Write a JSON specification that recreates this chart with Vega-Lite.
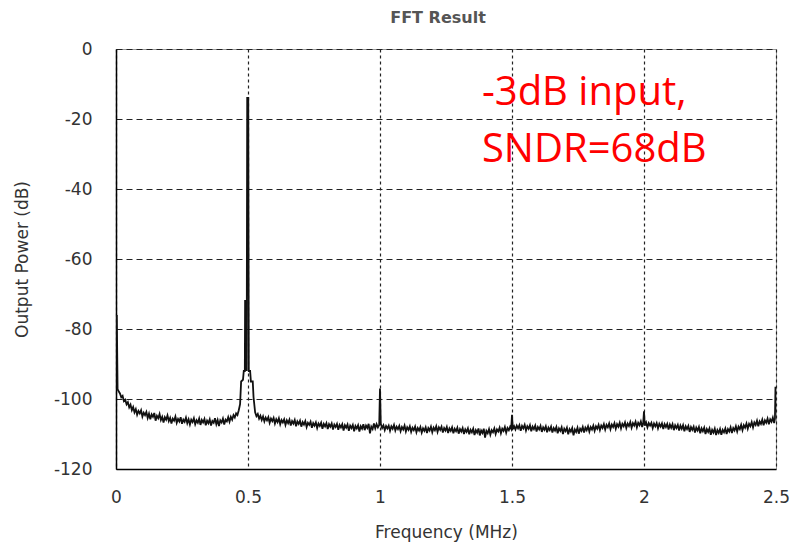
{
"$schema": "https://vega.github.io/schema/vega-lite/v6.json",
"width": 660, "height": 420,
"autosize": {"type": "none"},
"padding": {"left": 116, "top": 49, "right": 14, "bottom": 75},
"background": "white",
"title": {"text": "FFT Result", "font": "DejaVu Sans", "fontSize": 16, "fontWeight": "bold", "color": "#555", "anchor": "middle", "offset": 14, "dx": -8},
"config": {
 "view": {"stroke": "#999", "strokeWidth": 1},
 "axis": {"ticks": false, "labelFlush": false, "domainColor": "#000", "domainWidth": 1.5, "labelFont": "DejaVu Sans", "labelFontSize": 17, "labelColor": "#333", "titleFont": "DejaVu Sans", "titleFontSize": 17, "titleFontWeight": "normal", "titleColor": "#333", "gridColor": "#222", "gridWidth": 1.2, "gridOpacity": 1}
},
"datasets": {
"spec": [
{"f":0.003,"p":-76},{"f":0.006,"p":-97.2},{"f":0.01,"p":-97.8},{"f":0.015,"p":-98.4},{"f":0.02,"p":-99.5},{"f":0.025,"p":-99.1},{"f":0.03,"p":-100.6},{"f":0.035,"p":-100.2},{"f":0.04,"p":-101.5},{"f":0.045,"p":-100.9},{"f":0.05,"p":-102.4},{"f":0.055,"p":-101.6},{"f":0.06,"p":-103.2},{"f":0.065,"p":-102.3},{"f":0.07,"p":-103.8},{"f":0.075,"p":-102.9},{"f":0.08,"p":-104.5},{"f":0.085,"p":-103.4},{"f":0.09,"p":-104.1},{"f":0.095,"p":-103.2},{"f":0.1,"p":-105},{"f":0.105,"p":-103.9},{"f":0.11,"p":-104.6},{"f":0.115,"p":-103.7},{"f":0.12,"p":-105.4},{"f":0.125,"p":-104.2},{"f":0.13,"p":-105.8},{"f":0.135,"p":-104.4},{"f":0.14,"p":-105.1},{"f":0.145,"p":-104},{"f":0.15,"p":-106.2},{"f":0.155,"p":-104.8},{"f":0.16,"p":-105.5},{"f":0.165,"p":-104.3},{"f":0.17,"p":-106},{"f":0.175,"p":-105.1},{"f":0.18,"p":-106.7},{"f":0.185,"p":-105.2},{"f":0.19,"p":-105.9},{"f":0.195,"p":-104.7},{"f":0.2,"p":-106.3},{"f":0.205,"p":-105.4},{"f":0.21,"p":-107},{"f":0.215,"p":-105.6},{"f":0.22,"p":-106.2},{"f":0.225,"p":-105},{"f":0.23,"p":-106.8},{"f":0.235,"p":-105.7},{"f":0.24,"p":-106.4},{"f":0.245,"p":-105.2},{"f":0.25,"p":-107.1},{"f":0.255,"p":-105.9},{"f":0.26,"p":-106.5},{"f":0.265,"p":-105.3},{"f":0.27,"p":-106.9},{"f":0.275,"p":-105.8},{"f":0.28,"p":-107.3},{"f":0.285,"p":-105.9},{"f":0.29,"p":-106.6},{"f":0.295,"p":-105.5},{"f":0.3,"p":-107.2},{"f":0.305,"p":-106.1},{"f":0.31,"p":-106.8},{"f":0.315,"p":-105.6},{"f":0.32,"p":-107.4},{"f":0.325,"p":-106},{"f":0.33,"p":-106.7},{"f":0.335,"p":-105.7},{"f":0.34,"p":-107.5},{"f":0.345,"p":-106.2},{"f":0.35,"p":-106.9},{"f":0.355,"p":-105.8},{"f":0.36,"p":-107.6},{"f":0.365,"p":-106.3},{"f":0.37,"p":-106.8},{"f":0.375,"p":-105.5},{"f":0.38,"p":-107.2},{"f":0.385,"p":-106},{"f":0.39,"p":-107.7},{"f":0.395,"p":-106.1},{"f":0.4,"p":-106.7},{"f":0.405,"p":-105.6},{"f":0.41,"p":-107.3},{"f":0.415,"p":-105.9},{"f":0.42,"p":-106.4},{"f":0.425,"p":-105.2},{"f":0.43,"p":-106.5},{"f":0.435,"p":-105.1},{"f":0.44,"p":-105.9},{"f":0.445,"p":-104.6},{"f":0.45,"p":-105.3},{"f":0.455,"p":-104.1},{"f":0.46,"p":-104.6},{"f":0.465,"p":-103.2},{"f":0.47,"p":-101.5},
{"f":0.474,"p":-95},{"f":0.481,"p":-94.5},{"f":0.484,"p":-92},{"f":0.488,"p":-92},{"f":0.489,"p":-72},{"f":0.493,"p":-72},{"f":0.495,"p":-92},{"f":0.497,"p":-14},{"f":0.501,"p":-14},{"f":0.503,"p":-92},{"f":0.508,"p":-92},{"f":0.511,"p":-95},{"f":0.518,"p":-95},{"f":0.521,"p":-99.5},
{"f":0.527,"p":-103.8},{"f":0.532,"p":-104.9},{"f":0.537,"p":-104.3},{"f":0.542,"p":-105.6},{"f":0.547,"p":-104.8},{"f":0.552,"p":-106},{"f":0.557,"p":-105},{"f":0.562,"p":-106.4},{"f":0.567,"p":-105.3},{"f":0.572,"p":-106.1},{"f":0.577,"p":-105.2},{"f":0.582,"p":-106.8},{"f":0.587,"p":-105.6},{"f":0.592,"p":-106.3},{"f":0.597,"p":-105.4},{"f":0.602,"p":-107},{"f":0.607,"p":-105.8},{"f":0.612,"p":-106.6},{"f":0.617,"p":-105.5},{"f":0.622,"p":-107.2},{"f":0.627,"p":-106},{"f":0.632,"p":-106.7},{"f":0.637,"p":-105.8},{"f":0.642,"p":-107.4},{"f":0.647,"p":-106.1},{"f":0.652,"p":-106.9},{"f":0.657,"p":-105.9},{"f":0.662,"p":-107.6},{"f":0.667,"p":-106.3},{"f":0.672,"p":-107},{"f":0.677,"p":-106},{"f":0.682,"p":-107.8},{"f":0.687,"p":-106.4},{"f":0.692,"p":-107.1},{"f":0.697,"p":-106.2},{"f":0.702,"p":-107.9},{"f":0.707,"p":-106.6},{"f":0.712,"p":-107.3},{"f":0.717,"p":-106.3},{"f":0.722,"p":-108},{"f":0.727,"p":-106.8},{"f":0.732,"p":-107.4},{"f":0.737,"p":-106.5},{"f":0.742,"p":-108.2},{"f":0.747,"p":-106.9},{"f":0.752,"p":-107.6},{"f":0.757,"p":-106.7},{"f":0.762,"p":-108.3},{"f":0.767,"p":-107},{"f":0.772,"p":-107.7},{"f":0.777,"p":-106.8},{"f":0.782,"p":-108.5},{"f":0.787,"p":-107.1},{"f":0.792,"p":-107.8},{"f":0.797,"p":-106.9},{"f":0.802,"p":-108.6},{"f":0.807,"p":-107.2},{"f":0.812,"p":-107.9},{"f":0.817,"p":-107},{"f":0.822,"p":-108.7},{"f":0.827,"p":-107.3},{"f":0.832,"p":-108},{"f":0.837,"p":-107.1},{"f":0.842,"p":-108.8},{"f":0.847,"p":-107.4},{"f":0.852,"p":-108.1},{"f":0.857,"p":-107.2},{"f":0.862,"p":-109},{"f":0.867,"p":-107.5},{"f":0.872,"p":-108.2},{"f":0.877,"p":-107.3},{"f":0.882,"p":-109.1},{"f":0.887,"p":-107.6},{"f":0.892,"p":-108.3},{"f":0.897,"p":-107.4},{"f":0.902,"p":-109.2},{"f":0.907,"p":-107.7},{"f":0.912,"p":-108.4},{"f":0.917,"p":-107.5},{"f":0.922,"p":-109.3},{"f":0.927,"p":-107.8},{"f":0.932,"p":-108.5},{"f":0.937,"p":-107.2},{"f":0.942,"p":-108.9},{"f":0.947,"p":-107.6},{"f":0.952,"p":-108.3},{"f":0.957,"p":-107.1},{"f":0.962,"p":-109.8},{"f":0.967,"p":-107.9},{"f":0.972,"p":-108.6},{"f":0.977,"p":-107},{"f":0.982,"p":-108.4},{"f":0.987,"p":-107.2},{"f":0.992,"p":-108.1},{"f":0.997,"p":-107.4},{"f":1.0,"p":-97},
{"f":1.003,"p":-107.1},{"f":1.008,"p":-108.3},{"f":1.013,"p":-107.5},{"f":1.018,"p":-108.9},{"f":1.023,"p":-107.7},{"f":1.028,"p":-108.4},{"f":1.033,"p":-107.6},{"f":1.038,"p":-109.1},{"f":1.043,"p":-107.8},{"f":1.048,"p":-108.5},{"f":1.053,"p":-107.4},{"f":1.058,"p":-109},{"f":1.063,"p":-107.9},{"f":1.068,"p":-108.6},{"f":1.073,"p":-107.7},{"f":1.078,"p":-109.2},{"f":1.083,"p":-108},{"f":1.088,"p":-108.7},{"f":1.093,"p":-107.6},{"f":1.098,"p":-109.3},{"f":1.103,"p":-108.1},{"f":1.108,"p":-108.8},{"f":1.113,"p":-107.8},{"f":1.118,"p":-109.4},{"f":1.123,"p":-108.2},{"f":1.128,"p":-108.9},{"f":1.133,"p":-107.9},{"f":1.138,"p":-109.5},{"f":1.143,"p":-108.3},{"f":1.148,"p":-109},{"f":1.153,"p":-108},{"f":1.158,"p":-109.6},{"f":1.163,"p":-108.4},{"f":1.168,"p":-109.1},{"f":1.173,"p":-108.1},{"f":1.178,"p":-109.7},{"f":1.183,"p":-108.3},{"f":1.188,"p":-109},{"f":1.193,"p":-107.9},{"f":1.198,"p":-109.5},{"f":1.203,"p":-108.2},{"f":1.208,"p":-108.9},{"f":1.213,"p":-107.8},{"f":1.218,"p":-109.4},{"f":1.223,"p":-108.1},{"f":1.228,"p":-108.8},{"f":1.233,"p":-107.9},{"f":1.238,"p":-109.6},{"f":1.243,"p":-108.3},{"f":1.248,"p":-109},{"f":1.253,"p":-108},{"f":1.258,"p":-109.7},{"f":1.263,"p":-108.4},{"f":1.268,"p":-109.1},{"f":1.273,"p":-108.1},{"f":1.278,"p":-109.8},{"f":1.283,"p":-108.5},{"f":1.288,"p":-109.2},{"f":1.293,"p":-108.2},{"f":1.298,"p":-109.9},{"f":1.303,"p":-108.6},{"f":1.308,"p":-109.3},{"f":1.313,"p":-108.3},{"f":1.318,"p":-110},{"f":1.323,"p":-108.7},{"f":1.328,"p":-109.4},{"f":1.333,"p":-108.4},{"f":1.338,"p":-110.1},{"f":1.343,"p":-108.8},{"f":1.348,"p":-109.5},{"f":1.353,"p":-108.5},{"f":1.358,"p":-110.3},{"f":1.363,"p":-108.9},{"f":1.368,"p":-109.6},{"f":1.373,"p":-108.4},{"f":1.378,"p":-110.4},{"f":1.383,"p":-109},{"f":1.388,"p":-109.7},{"f":1.393,"p":-108.5},{"f":1.398,"p":-111},{"f":1.403,"p":-109.1},{"f":1.408,"p":-109.8},{"f":1.413,"p":-108.6},{"f":1.418,"p":-110.2},{"f":1.423,"p":-108.9},{"f":1.428,"p":-109.5},{"f":1.433,"p":-108.4},{"f":1.438,"p":-110},{"f":1.443,"p":-108.7},{"f":1.448,"p":-109.3},{"f":1.453,"p":-108.2},{"f":1.458,"p":-109.8},{"f":1.463,"p":-108.5},{"f":1.468,"p":-109.1},{"f":1.473,"p":-108},{"f":1.478,"p":-109.6},{"f":1.483,"p":-108.3},{"f":1.488,"p":-108.9},{"f":1.493,"p":-107.9},{"f":1.497,"p":-108.5},{"f":1.5,"p":-104.5},
{"f":1.503,"p":-108.6},{"f":1.508,"p":-107.8},{"f":1.513,"p":-108.7},{"f":1.518,"p":-107.6},{"f":1.523,"p":-108.4},{"f":1.528,"p":-107.5},{"f":1.533,"p":-109.1},{"f":1.538,"p":-107.7},{"f":1.543,"p":-108.4},{"f":1.548,"p":-107.4},{"f":1.553,"p":-109},{"f":1.558,"p":-107.8},{"f":1.563,"p":-108.5},{"f":1.568,"p":-107.5},{"f":1.573,"p":-109.2},{"f":1.578,"p":-107.9},{"f":1.583,"p":-108.6},{"f":1.588,"p":-107.6},{"f":1.593,"p":-109.3},{"f":1.598,"p":-108},{"f":1.603,"p":-108.7},{"f":1.608,"p":-107.7},{"f":1.613,"p":-109.4},{"f":1.618,"p":-108.1},{"f":1.623,"p":-108.8},{"f":1.628,"p":-107.8},{"f":1.633,"p":-109.5},{"f":1.638,"p":-108.2},{"f":1.643,"p":-108.9},{"f":1.648,"p":-107.9},{"f":1.653,"p":-109.6},{"f":1.658,"p":-108.3},{"f":1.663,"p":-109},{"f":1.668,"p":-108},{"f":1.673,"p":-109.8},{"f":1.678,"p":-108.4},{"f":1.683,"p":-109.1},{"f":1.688,"p":-108.1},{"f":1.693,"p":-110},{"f":1.698,"p":-108.5},{"f":1.703,"p":-109.2},{"f":1.708,"p":-108.2},{"f":1.713,"p":-110.1},{"f":1.718,"p":-108.6},{"f":1.723,"p":-109.3},{"f":1.728,"p":-108.3},{"f":1.733,"p":-110.4},{"f":1.738,"p":-108.7},{"f":1.743,"p":-109.4},{"f":1.748,"p":-108.2},{"f":1.753,"p":-109.9},{"f":1.758,"p":-108.5},{"f":1.763,"p":-109.1},{"f":1.768,"p":-108},{"f":1.773,"p":-109.6},{"f":1.778,"p":-108.2},{"f":1.783,"p":-108.9},{"f":1.788,"p":-107.8},{"f":1.793,"p":-109.3},{"f":1.798,"p":-108},{"f":1.803,"p":-108.7},{"f":1.808,"p":-107.6},{"f":1.813,"p":-109.1},{"f":1.818,"p":-107.8},{"f":1.823,"p":-108.5},{"f":1.828,"p":-107.4},{"f":1.833,"p":-108.9},{"f":1.838,"p":-107.6},{"f":1.843,"p":-108.3},{"f":1.848,"p":-107.2},{"f":1.853,"p":-108.7},{"f":1.858,"p":-107.4},{"f":1.863,"p":-108.1},{"f":1.868,"p":-107},{"f":1.873,"p":-108.6},{"f":1.878,"p":-107.3},{"f":1.883,"p":-108},{"f":1.888,"p":-106.9},{"f":1.893,"p":-108.5},{"f":1.898,"p":-107.2},{"f":1.903,"p":-107.9},{"f":1.908,"p":-106.8},{"f":1.913,"p":-108.4},{"f":1.918,"p":-107.1},{"f":1.923,"p":-107.8},{"f":1.928,"p":-106.7},{"f":1.933,"p":-108.3},{"f":1.938,"p":-107},{"f":1.943,"p":-107.7},{"f":1.948,"p":-106.6},{"f":1.953,"p":-108.2},{"f":1.958,"p":-106.9},{"f":1.963,"p":-107.6},{"f":1.968,"p":-106.5},{"f":1.973,"p":-108.1},{"f":1.978,"p":-106.8},{"f":1.983,"p":-107.5},{"f":1.988,"p":-106.4},{"f":1.993,"p":-108},{"f":1.997,"p":-106.8},{"f":2.0,"p":-103.5},
{"f":2.003,"p":-107.6},{"f":2.008,"p":-106.7},{"f":2.013,"p":-108.1},{"f":2.018,"p":-106.9},{"f":2.023,"p":-107.6},{"f":2.028,"p":-106.8},{"f":2.033,"p":-108.3},{"f":2.038,"p":-107},{"f":2.043,"p":-107.8},{"f":2.048,"p":-106.9},{"f":2.053,"p":-108.4},{"f":2.058,"p":-107.1},{"f":2.063,"p":-107.9},{"f":2.068,"p":-107},{"f":2.073,"p":-108.6},{"f":2.078,"p":-107.2},{"f":2.083,"p":-108},{"f":2.088,"p":-107.1},{"f":2.093,"p":-108.7},{"f":2.098,"p":-107.3},{"f":2.103,"p":-108.2},{"f":2.108,"p":-107.2},{"f":2.113,"p":-108.9},{"f":2.118,"p":-107.5},{"f":2.123,"p":-108.3},{"f":2.128,"p":-107.4},{"f":2.133,"p":-109},{"f":2.138,"p":-107.6},{"f":2.143,"p":-108.5},{"f":2.148,"p":-107.5},{"f":2.153,"p":-109.2},{"f":2.158,"p":-107.8},{"f":2.163,"p":-108.6},{"f":2.168,"p":-107.7},{"f":2.173,"p":-109.4},{"f":2.178,"p":-108},{"f":2.183,"p":-108.8},{"f":2.188,"p":-107.9},{"f":2.193,"p":-109.6},{"f":2.198,"p":-108.2},{"f":2.203,"p":-109},{"f":2.208,"p":-108},{"f":2.213,"p":-109.8},{"f":2.218,"p":-108.4},{"f":2.223,"p":-109.2},{"f":2.228,"p":-108.2},{"f":2.233,"p":-110},{"f":2.238,"p":-108.6},{"f":2.243,"p":-109.4},{"f":2.248,"p":-108.4},{"f":2.253,"p":-110.2},{"f":2.258,"p":-108.8},{"f":2.263,"p":-109.6},{"f":2.268,"p":-108.5},{"f":2.273,"p":-110.3},{"f":2.278,"p":-108.9},{"f":2.283,"p":-109.7},{"f":2.288,"p":-108.6},{"f":2.293,"p":-110.2},{"f":2.298,"p":-108.8},{"f":2.303,"p":-109.5},{"f":2.308,"p":-108.4},{"f":2.313,"p":-110},{"f":2.318,"p":-108.6},{"f":2.323,"p":-109.3},{"f":2.328,"p":-108.1},{"f":2.333,"p":-109.7},{"f":2.338,"p":-108.3},{"f":2.343,"p":-109},{"f":2.348,"p":-107.8},{"f":2.353,"p":-109.3},{"f":2.358,"p":-107.9},{"f":2.363,"p":-108.6},{"f":2.368,"p":-107.4},{"f":2.373,"p":-108.9},{"f":2.378,"p":-107.5},{"f":2.383,"p":-108.2},{"f":2.388,"p":-107},{"f":2.393,"p":-108.5},{"f":2.398,"p":-107.1},{"f":2.403,"p":-107.8},{"f":2.408,"p":-106.6},{"f":2.413,"p":-108.1},{"f":2.418,"p":-106.7},{"f":2.423,"p":-107.4},{"f":2.428,"p":-106.2},{"f":2.433,"p":-107.8},{"f":2.438,"p":-106.4},{"f":2.443,"p":-107.1},{"f":2.448,"p":-105.9},{"f":2.453,"p":-107.5},{"f":2.458,"p":-106.1},{"f":2.463,"p":-106.8},{"f":2.468,"p":-105.6},{"f":2.473,"p":-107.2},{"f":2.478,"p":-105.8},{"f":2.483,"p":-106.5},{"f":2.488,"p":-105.3},{"f":2.493,"p":-106.9},{"f":2.496,"p":-105.6},{"f":2.498,"p":-96.5}
],
"notes": [
{"f":1.386,"p":-16,"t":"-3dB input,"},
{"f":1.386,"p":-32.3,"t":"SNDR=68dB"}
]
},
"layer": [
{
 "data": {"name": "spec"},
 "mark": {"type": "line", "color": "#111", "strokeWidth": 1.8, "clip": true},
 "encoding": {
  "x": {"field": "f", "type": "quantitative", "scale": {"domain": [0, 2.5], "nice": false, "zero": false},
   "axis": {"title": "Frequency (MHz)", "values": [0, 0.5, 1, 1.5, 2, 2.5], "labelExpr": "'' + datum.value", "grid": true, "gridDash": [3, 3], "labelPadding": 20, "titlePadding": 19}},
  "y": {"field": "p", "type": "quantitative", "scale": {"domain": [-120, 0], "nice": false, "zero": false},
   "axis": {"title": "Output Power (dB)", "values": [-120, -100, -80, -60, -40, -20, 0], "labelExpr": "'' + datum.value", "grid": true, "gridDash": [6, 4], "labelPadding": 24, "titlePadding": 22}}
 }
},
{
 "data": {"name": "notes"},
 "mark": {"type": "text", "align": "left", "baseline": "alphabetic", "color": "#ff0000", "font": "Open Sans", "fontSize": 40},
 "encoding": {
  "x": {"field": "f", "type": "quantitative"},
  "y": {"field": "p", "type": "quantitative"},
  "text": {"field": "t"}
 }
}
]
}
